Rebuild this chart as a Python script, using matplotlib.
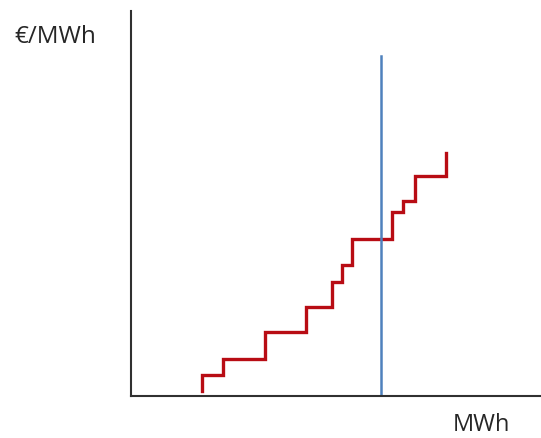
import matplotlib
matplotlib.use("Agg")
import matplotlib.pyplot as plt

# Supply curve (merit order) - block edges (MWh) and prices (€/MWh)
block_edges = [70.7, 92, 134, 175, 200.7, 211.3, 221.3, 260.7, 271.7, 284, 314.7]
block_prices = [21, 37, 64.3, 88.7, 113.7, 131, 157, 183.7, 195.3, 219.7]
start_price = 5.3
end_price = 243
demand_mwh = 250
demand_top = 340

x_label = "MWh"
y_label = "€/MWh"

W, H = 541, 439
fig = plt.figure(figsize=(W / 100, H / 100), dpi=100)
ax = fig.add_axes([131 / W, (H - 397) / H, (W - 131) / W, (397 - 12) / H])
ax.set_xlim(0, 410)
ax.set_ylim(0, 385)

xs = [block_edges[0]] + block_edges
ys = [start_price] + block_prices + [end_price]
ax.plot(xs, ys, drawstyle="steps-post", color="#B80C14", lw=2.4, solid_joinstyle="miter")
ax.plot([demand_mwh, demand_mwh], [0, demand_top], color="#4F81BD", lw=1.8)

for s in ["top", "right"]:
    ax.spines[s].set_visible(False)
for s in ["left", "bottom"]:
    ax.spines[s].set_color("#303030")
    ax.spines[s].set_linewidth(1.5)
ax.set_xticks([])
ax.set_yticks([])

fig.text(14 / W, 1 - 37 / H, y_label, ha="left", va="center", fontsize=17.5,
         family="Open Sans", color="#262626")
fig.text(481 / W, 1 - 425 / H, x_label, ha="center", va="center", fontsize=17,
         family="Open Sans", color="#262626")

fig.savefig("out.png", dpi=100)
